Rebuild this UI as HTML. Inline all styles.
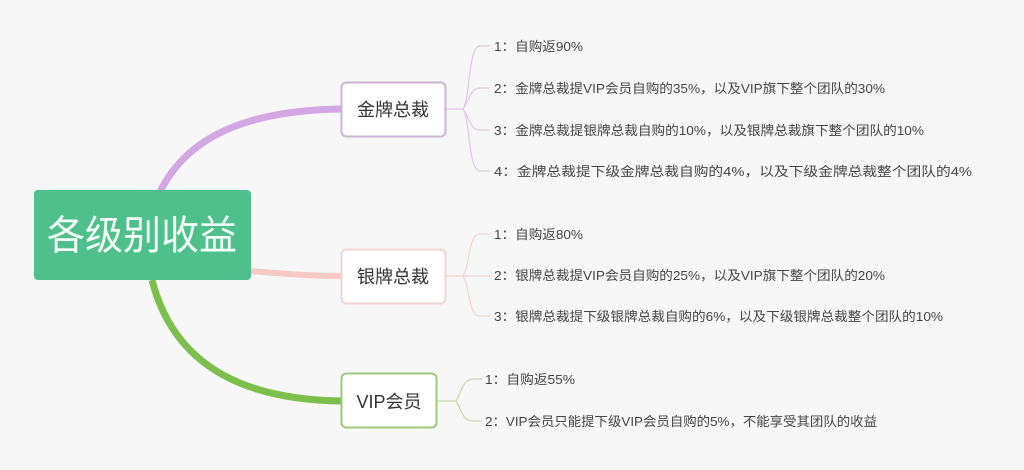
<!DOCTYPE html>
<html><head><meta charset="utf-8"><style>
html,body{margin:0;padding:0;background:#f7f7f7;}
svg{display:block}
text{font-family:"Liberation Sans","Noto Sans CJK SC",sans-serif;}
</style></head><body>
<svg width="1024" height="470" viewBox="0 0 1024 470" xmlns="http://www.w3.org/2000/svg">
<rect width="1024" height="470" fill="#f7f7f7"/>
<!-- main connectors -->
<path d="M160 192 C190 130 260 110 342 109" stroke="#d3a6e4" stroke-width="7" fill="none"/>
<path d="M250 271 C290 274 310 276 342 276" stroke="#f6c9c4" stroke-width="6" fill="none"/>
<path d="M152 280 C175 370 250 400 342 401" stroke="#7cbf4c" stroke-width="7" fill="none"/>
<!-- root -->
<rect x="34" y="190" width="217" height="90" rx="4" fill="#4fc08c"/>
<text x="142" y="249" font-size="40" fill="#f4fff8" text-anchor="middle" textLength="190" lengthAdjust="spacingAndGlyphs">各级别收益</text>
<!-- brackets gold -->
<g stroke="#e2c6e8" stroke-width="1.2" fill="none">
<path d="M446 109 H463"/>
<path d="M463 109 C470 100 468 46 480 46 H490"/>
<path d="M463 109 C470 100 470 88 480 88 H490"/>
<path d="M463 109 C470 118 470 130 480 130 H490"/>
<path d="M463 109 C470 118 468 171 480 171 H490"/>
</g>
<g stroke="#f6d3d0" stroke-width="1.2" fill="none">
<path d="M446 276 H463"/>
<path d="M463 276 C470 266 468 234 480 234 H490"/>
<path d="M463 276 H490"/>
<path d="M463 276 C470 286 468 316 480 316 H490"/>
</g>
<g stroke="#c3dba8" stroke-width="1.2" fill="none">
<path d="M437 401 H456"/>
<path d="M456 401 C462 392 462 379 474 379 H482"/>
<path d="M456 401 C462 410 462 421 474 421 H482"/>
</g>
<!-- branch boxes -->
<rect x="341.5" y="82.5" width="104" height="54" rx="5" fill="#fff" stroke="#cdb4d6" stroke-width="2"/>
<text x="393" y="116" font-size="18" fill="#333" text-anchor="middle">金牌总裁</text>
<rect x="341.5" y="249.5" width="104" height="54" rx="5" fill="#fff" stroke="#f3d3d1" stroke-width="2"/>
<text x="393" y="283" font-size="18" fill="#333" text-anchor="middle">银牌总裁</text>
<rect x="341.5" y="373.5" width="95" height="54" rx="5" fill="#fff" stroke="#9cc97a" stroke-width="2"/>
<text x="389" y="408" font-size="18" fill="#333" text-anchor="middle">VIP会员</text>
<!-- leaf texts -->
<g font-size="13" fill="#444">
<text x="494" y="51" textLength="89" lengthAdjust="spacingAndGlyphs">1：自购返90%</text>
<text x="494" y="93" textLength="391" lengthAdjust="spacingAndGlyphs">2：金牌总裁提VIP会员自购的35%，以及VIP旗下整个团队的30%</text>
<text x="494" y="135" textLength="430" lengthAdjust="spacingAndGlyphs">3：金牌总裁提银牌总裁自购的10%，以及银牌总裁旗下整个团队的10%</text>
<text x="494" y="176" textLength="478" lengthAdjust="spacingAndGlyphs">4：金牌总裁提下级金牌总裁自购的4%，以及下级金牌总裁整个团队的4%</text>
<text x="494" y="239" textLength="89" lengthAdjust="spacingAndGlyphs">1：自购返80%</text>
<text x="494" y="280" textLength="391" lengthAdjust="spacingAndGlyphs">2：银牌总裁提VIP会员自购的25%，以及VIP旗下整个团队的20%</text>
<text x="494" y="321" textLength="449" lengthAdjust="spacingAndGlyphs">3：银牌总裁提下级银牌总裁自购的6%，以及下级银牌总裁整个团队的10%</text>
<text x="485" y="384" textLength="90" lengthAdjust="spacingAndGlyphs">1：自购返55%</text>
<text x="485" y="426" textLength="392" lengthAdjust="spacingAndGlyphs">2：VIP会员只能提下级VIP会员自购的5%，不能享受其团队的收益</text>
</g>
</svg>
</body></html>
